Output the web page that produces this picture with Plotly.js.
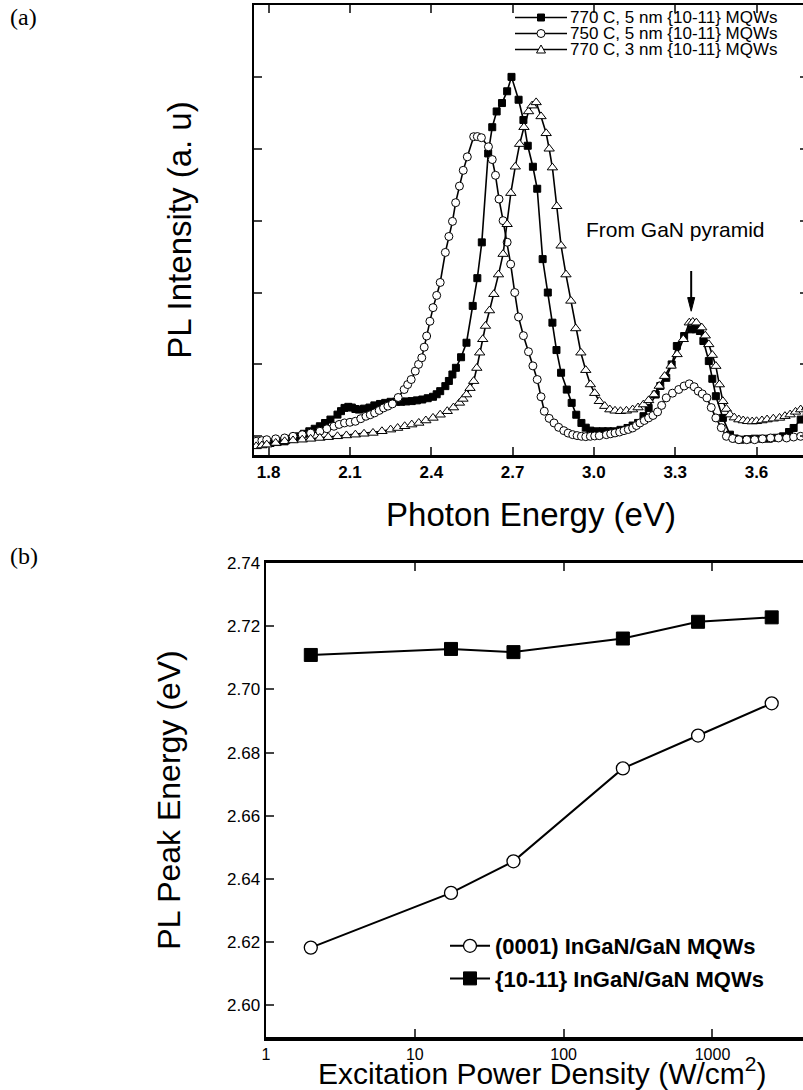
<!DOCTYPE html>
<html>
<head>
<meta charset="utf-8">
<script src="https://cdn.plot.ly/plotly-3.0.1.min.js"></script>
<style>
html,body{margin:0;padding:0;overflow:hidden;background:#fff;}
#chart{width:870px;height:1104px;}
</style>
</head>
<body>
<div id="chart"></div>
<script>
// ---------- Panel (a): PL spectra ----------
const sqE = [1.754,1.781,1.807,1.833,1.859,1.885,1.911,1.93,1.95,1.97,1.989,2.008,2.028,2.054,2.067,2.08,2.094,2.107,2.12,2.133,2.152,2.172,2.19,2.211,2.23,2.25,2.27,2.289,2.308,2.328,2.347,2.367,2.387,2.4065,2.42,2.433,2.452,2.465,2.478,2.491,2.51,2.53,2.553,2.57,2.5865,2.61,2.625,2.6413,2.6609,2.68,2.696,2.7222,2.74,2.756,2.775,2.791,2.811,2.83,2.847,2.862,2.879,2.9,2.918,2.935,2.954,2.97,2.987,3.01,3.033,3.052,3.072,3.098,3.124,3.143,3.163,3.183,3.202,3.228,3.245,3.267,3.287,3.306,3.333,3.359,3.375,3.391,3.404,3.424,3.437,3.45,3.476,3.502,3.52,3.541,3.567,3.593,3.62,3.646,3.672,3.698,3.72,3.737,3.763,3.785];
const sqI = [-0.116,-0.105,-0.093,-0.08,-0.07,-0.035,0.0,0.035,0.07,0.105,0.14,0.185,0.233,0.302,0.35,0.395,0.41,0.40,0.38,0.372,0.385,0.40,0.43,0.45,0.465,0.48,0.48,0.48,0.485,0.49,0.50,0.512,0.53,0.55,0.585,0.628,0.698,0.77,0.86,0.953,1.1,1.302,1.814,2.2,2.698,3.935,4.3,4.519,4.636,4.8,5.0,4.682,4.4,4.042,3.75,3.444,2.465,2.0,1.581,1.2,0.884,0.65,0.465,0.3,0.186,0.12,0.079,0.07,0.07,0.07,0.07,0.09,0.116,0.15,0.186,0.28,0.395,0.581,0.7,0.814,1.0,1.256,1.395,1.488,1.49,1.465,1.326,1.047,0.8,0.558,0.256,0.023,-0.03,-0.047,-0.04,-0.033,-0.033,-0.033,-0.02,0.0,0.06,0.116,0.233,0.27];

const ciE = [1.754,1.775,1.793,1.826,1.859,1.89,1.924,1.955,1.989,2.015,2.041,2.06,2.08,2.1,2.12,2.14,2.159,2.175,2.191,2.208,2.224,2.24,2.2565,2.278,2.30,2.313,2.326,2.341,2.353,2.365,2.374,2.383,2.395,2.4065,2.42,2.433,2.452,2.465,2.4783,2.49,2.504,2.518,2.533,2.5565,2.57,2.585,2.611,2.625,2.637,2.65,2.665,2.68,2.693,2.708,2.722,2.74,2.7587,2.775,2.791,2.805,2.817,2.835,2.853,2.87,2.889,2.905,2.922,2.938,2.954,2.97,2.987,3.003,3.02,3.046,3.062,3.078,3.095,3.111,3.127,3.143,3.157,3.17,3.186,3.202,3.218,3.235,3.25,3.267,3.29,3.313,3.333,3.352,3.37,3.385,3.4,3.417,3.433,3.45,3.47,3.489,3.512,3.535,3.564,3.593,3.622,3.652,3.681,3.711,3.737,3.763,3.785];
const ciI = [-0.07,-0.06,-0.047,-0.035,-0.023,0.0,0.023,0.045,0.07,0.105,0.14,0.165,0.186,0.195,0.209,0.245,0.279,0.3,0.326,0.36,0.395,0.42,0.451,0.54,0.651,0.72,0.79,0.907,1.0,1.093,1.24,1.395,1.6,1.79,1.96,2.14,2.558,2.78,2.99,3.25,3.481,3.7,3.888,4.168,4.17,4.154,4.028,3.85,3.631,3.3,3.0,2.7,2.395,2.0,1.66,1.4,1.177,0.98,0.79,0.55,0.349,0.25,0.186,0.125,0.079,0.045,0.023,0.01,0.0,-0.005,0.0,0.005,0.009,0.023,0.035,0.047,0.06,0.079,0.095,0.116,0.15,0.186,0.22,0.256,0.29,0.34,0.43,0.535,0.6,0.651,0.7,0.73,0.69,0.628,0.59,0.535,0.4,0.256,0.12,0.0,-0.03,-0.047,-0.047,-0.047,-0.035,-0.023,-0.023,-0.023,-0.01,0.0,0.005];

const trE = [1.754,1.775,1.793,1.826,1.859,1.89,1.924,1.955,1.989,2.02,2.054,2.087,2.12,2.152,2.185,2.218,2.25,2.276,2.302,2.328,2.354,2.38,2.4065,2.433,2.459,2.482,2.504,2.517,2.53,2.543,2.5565,2.568,2.5787,2.59,2.60,2.615,2.631,2.648,2.665,2.68,2.6935,2.71,2.726,2.742,2.759,2.772,2.787,2.805,2.824,2.835,2.847,2.863,2.879,2.897,2.915,2.933,2.952,2.97,2.987,3.003,3.02,3.04,3.059,3.078,3.098,3.12,3.143,3.163,3.183,3.202,3.222,3.241,3.261,3.285,3.307,3.33,3.352,3.365,3.378,3.398,3.411,3.424,3.437,3.45,3.463,3.476,3.489,3.502,3.518,3.535,3.551,3.567,3.584,3.6,3.62,3.639,3.662,3.685,3.705,3.724,3.744,3.763,3.785];
const trI = [-0.14,-0.128,-0.116,-0.093,-0.07,-0.058,-0.047,-0.035,-0.023,-0.012,0.0,0.012,0.023,0.035,0.047,0.07,0.093,0.115,0.14,0.163,0.186,0.22,0.256,0.3,0.349,0.4,0.465,0.52,0.581,0.67,0.767,0.95,1.163,1.35,1.535,1.75,1.977,2.25,2.535,2.95,3.383,3.75,4.065,4.3,4.519,4.6,4.645,4.45,4.215,4.0,3.738,3.2,2.651,2.25,1.884,1.5,1.163,0.92,0.721,0.6,0.488,0.42,0.372,0.355,0.349,0.355,0.372,0.4,0.442,0.5,0.581,0.7,0.837,0.98,1.14,1.35,1.581,1.59,1.581,1.512,1.4,1.279,1.13,0.977,0.72,0.488,0.38,0.302,0.26,0.233,0.22,0.209,0.205,0.209,0.22,0.233,0.245,0.256,0.28,0.302,0.34,0.372,0.4];

const seriesA = ["770 C, 5 nm {10-11} MQWs","750 C, 5 nm {10-11} MQWs","770 C, 3 nm {10-11} MQWs"];
const xTicksA = [1.8,2.1,2.4,2.7,3.0,3.3,3.6];
const xTickTextA = ["1.8","2.1","2.4","2.7","3.0","3.3","3.6"];
const peakLabel = "From GaN pyramid";
const peakPos = 3.359;

// ---------- Panel (b): peak energy vs excitation ----------
const power = [2,17.5,46,250,800,2500];
const peakC = [2.6183,2.6356,2.6456,2.675,2.6854,2.6956];   // (0001)
const peakM = [2.7109,2.7128,2.7118,2.7161,2.7214,2.7228]; // {10-11}
const seriesB = ["(0001) InGaN/GaN MQWs","{10-11} InGaN/GaN MQWs"];
const yTicksB = [2.60,2.62,2.64,2.66,2.68,2.70,2.72,2.74];
const xTicksB = [1,10,100,1000];
const xTitleB = "Excitation Power Density (W/cm<sup>2</sup>)";

const W = 870, H = 1104;
const FONT = "Liberation Sans, Arial, sans-serif";
const px = (p)=>p/W, py = (p)=>1-p/H;

const symA = [
  {symbol:"square",size:7,color:"#000"},
  {symbol:"circle",size:8,color:"#fff"},
  {symbol:"triangle-up",size:9,color:"#fff"}
];
const dataA = [[sqE,sqI],[ciE,ciI],[trE,trI]];

const traces = dataA.map((d,i)=>({
  x:d[0],y:d[1],name:seriesA[i],mode:"lines+markers",xaxis:"x",yaxis:"y",showlegend:false,
  line:{color:"#000",width:1.6},
  marker:{symbol:symA[i].symbol,size:symA[i].size,color:symA[i].color,line:{color:"#000",width:1}}
}));
traces.push(
  {x:power,y:peakC,name:seriesB[0],mode:"lines+markers",xaxis:"x2",yaxis:"y2",legend:"legend2",legendgroup:"g1",
   line:{color:"#000",width:2},marker:{symbol:"circle",size:13,color:"#fff",line:{color:"#000",width:1.3}}},
  {x:power,y:peakM,name:seriesB[1],mode:"lines+markers",xaxis:"x2",yaxis:"y2",legend:"legend2",legendgroup:"g2",
   line:{color:"#000",width:2},marker:{symbol:"square",size:13,color:"#000",line:{color:"#000",width:1}}}
);

// custom compact legend for panel (a)
const legRows = [17.5,33.5,49.5];
const legX0 = 515, legX1 = 567, legM = 541, legT = 569;
const shapes = [];
const annotations = [];
legRows.forEach((r,i)=>{
  shapes.push({type:"line",xref:"paper",yref:"paper",x0:px(legX0),x1:px(legX1),y0:py(r),y1:py(r),
    line:{color:"#000",width:1.6}});
  const s = 3.5;
  if(i===0){
    shapes.push({type:"rect",xref:"paper",yref:"paper",x0:px(legM-s),x1:px(legM+s),y0:py(r+s),y1:py(r-s),
      fillcolor:"#000",line:{color:"#000",width:1}});
  } else if(i===1){
    shapes.push({type:"circle",xref:"paper",yref:"paper",x0:px(legM-4),x1:px(legM+4),y0:py(r+4),y1:py(r-4),
      fillcolor:"#fff",line:{color:"#000",width:1}});
  } else {
    shapes.push({type:"path",xref:"paper",yref:"paper",
      path:`M ${px(legM-4.5)} ${py(r+3.5)} L ${px(legM+4.5)} ${py(r+3.5)} L ${px(legM)} ${py(r-4.5)} Z`,
      fillcolor:"#fff",line:{color:"#000",width:1}});
  }
  annotations.push({xref:"paper",yref:"paper",x:px(legT),y:py(r),xanchor:"left",yanchor:"middle",
    showarrow:false,text:seriesA[i],font:{family:FONT,size:17},borderpad:0});
});

// arrow for "From GaN pyramid"
shapes.push({type:"line",xref:"x",yref:"y",x0:peakPos,x1:peakPos,y0:2.3,y1:1.9,line:{color:"#000",width:2}});
shapes.push({type:"path",xref:"x",yref:"y",
  path:`M ${peakPos-0.013} 1.93 L ${peakPos+0.013} 1.93 L ${peakPos} 1.74 Z`,fillcolor:"#000",line:{color:"#000",width:1}});

annotations.push(
  {xref:"paper",yref:"paper",x:px(8),y:py(2),xanchor:"left",yanchor:"top",showarrow:false,
   text:"(a)",font:{family:"Liberation Serif, Times New Roman, serif",size:24}},
  {xref:"paper",yref:"paper",x:px(8),y:py(541),xanchor:"left",yanchor:"top",showarrow:false,
   text:"(b)",font:{family:"Liberation Serif, Times New Roman, serif",size:24}},
  {xref:"x",yref:"y",x:3.30,y:2.88,showarrow:false,text:peakLabel,font:{family:FONT,size:21}},
  {xref:"paper",yref:"paper",x:px(542),y:py(1071),xanchor:"center",yanchor:"middle",showarrow:false,
   text:xTitleB,font:{family:FONT,size:30},borderpad:0}
);

const axCommon = {ticks:"inside",ticklen:8,tickwidth:2,showline:true,linecolor:"#000",
  mirror:"ticks",showgrid:false,zeroline:false};

const layout = {
  width:W, height:H,
  margin:{l:0,r:0,t:0,b:0},
  paper_bgcolor:"#fff", plot_bgcolor:"#fff",
  font:{family:FONT,color:"#000"},
  xaxis:Object.assign({},axCommon,{domain:[px(254),px(808)],anchor:"y",range:[1.746,3.79],
    tickvals:xTicksA,ticktext:xTickTextA,linewidth:2.5,
    tickfont:{size:17,weight:"bold",family:FONT},
    title:{text:"Photon Energy (eV)",font:{size:33,family:FONT},standoff:22}}),
  yaxis:Object.assign({},axCommon,{domain:[py(455),py(5)],anchor:"x",range:[-0.26,6],
    tickvals:[0,1,2,3,4,5],showticklabels:false,linewidth:2.5,
    title:{text:"PL Intensity (a. u)",font:{size:33,family:FONT},standoff:50}}),
  xaxis2:Object.assign({},axCommon,{domain:[px(266),px(818)],anchor:"y2",type:"log",range:[0,3.709],
    tickvals:xTicksB,ticktext:xTicksB.map(String),linewidth:3.5,
    tickfont:{size:16,family:FONT}}),
  yaxis2:Object.assign({},axCommon,{domain:[py(1037),py(563)],anchor:"x2",range:[2.59,2.74],
    tickvals:yTicksB,tickformat:".2f",linewidth:2.5,
    tickfont:{size:17,family:FONT},
    title:{text:"PL Peak Energy (eV)",font:{size:32,family:FONT},standoff:37}}),
  legend2:{x:px(445),y:py(925),xanchor:"left",yanchor:"top",bgcolor:"rgba(0,0,0,0)",
    font:{size:22,family:FONT,weight:"bold"},tracegroupgap:1,itemwidth:40},
  shapes:shapes,
  annotations:annotations
};

Plotly.newPlot("chart",traces,layout,{staticPlot:true,displayModeBar:false});
</script>
</body>
</html>
